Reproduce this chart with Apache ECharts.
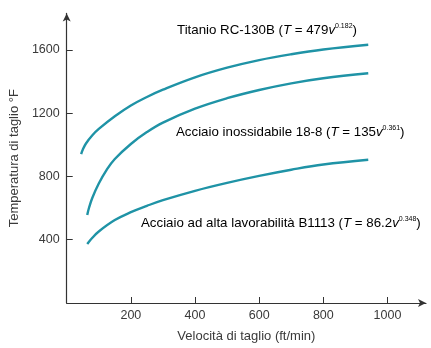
<!DOCTYPE html>
<html>
<head>
<meta charset="utf-8">
<script src="https://cdn.jsdelivr.net/npm/echarts@6/dist/echarts.min.js"></script>
<style>
html,body{margin:0;padding:0;background:#fff;}
#c{width:431px;height:348px;}
</style>
</head>
<body>
<div id="c"></div>
<script>
// Data
const titanioV = [45, 50, 60, 80, 100, 150, 200, 250, 300, 400, 500, 600, 700, 800, 940];
const titanioT = [941, 968, 1008, 1060, 1100, 1180, 1248, 1302, 1348, 1426, 1487, 1535, 1572, 1602, 1632];

const inoxV = [64, 70, 80, 100, 125, 150, 200, 250, 300, 400, 500, 600, 700, 800, 940];
const inoxT = [556, 605, 665, 755, 843, 910, 1005, 1080, 1140, 1228, 1294, 1346, 1388, 1420, 1452];

const b1113V = [64, 80, 100, 150, 200, 250, 300, 400, 500, 600, 700, 800, 940];
const b1113T = [373, 412, 452, 524, 574, 614, 650, 709, 759, 803, 842, 875, 905];

const xTicks = [200, 400, 600, 800, 1000];
const yTicks = [400, 800, 1200, 1600];

const xName = 'Velocità di taglio (ft/min)';
const yName = 'Temperatura di taglio °F';

function pairs(xs, ys) { return xs.map((x, i) => [x, ys[i]]); }

const lineColor = '#1f93a6';
const txt = '#3a3a3a';
const font = 'Liberation Sans, Arial, Helvetica, sans-serif';

const chart = echarts.init(document.getElementById('c'), null, {renderer: 'canvas'});

function lineSeries(name, xs, ys) {
  return {
    name: name, type: 'line', smooth: 0.4, showSymbol: false, symbol: 'none',
    data: pairs(xs, ys),
    lineStyle: {color: lineColor, width: 2.4},
    silent: true, animation: false
  };
}

const rich = {
  a: {fontSize: 13.3, fontFamily: font, color: txt, lineHeight: 15},
  i: {fontSize: 13.3, fontFamily: font, color: txt, fontStyle: 'italic', lineHeight: 15},
  s: {fontSize: 7, fontFamily: font, color: txt, verticalAlign: 'top', lineHeight: 15, padding: [0, 0, 5, 0]}
};

function label(left, topCenter, parts) {
  return {
    type: 'text', left: left, top: topCenter - 7.5,
    style: {text: parts, rich: rich, font: '13.3px ' + font}
  };
}

function plain(v) { return String(v); }

chart.setOption({
  animation: false,
  grid: {left: 62, right: 5, top: 13.4, bottom: 39.5, containLabel: false},
  xAxis: {
    type: 'value', min: 0, max: 1120, interval: 200,
    name: xName, nameLocation: 'middle', nameGap: 27,
    nameTextStyle: {fontSize: 13, fontFamily: font, color: txt},
    axisLine: {show: true, lineStyle: {color: '#333', width: 1.2}, symbol: ['none', 'arrow'], symbolSize: [6, 8]},
    axisTick: {show: true, inside: true, length: 6, lineStyle: {color: '#333'}, customValues: xTicks},
    axisLabel: {fontSize: 12.5, fontFamily: font, color: txt, margin: 6, customValues: xTicks, formatter: plain},
    splitLine: {show: false}
  },
  yAxis: {
    type: 'value', min: 0, max: 1830, interval: 400,
    name: yName, nameLocation: 'middle', nameGap: 42,
    nameTextStyle: {fontSize: 13, fontFamily: font, color: txt},
    axisLine: {show: true, lineStyle: {color: '#333', width: 1.2}, symbol: ['none', 'arrow'], symbolSize: [6, 8]},
    axisTick: {show: true, inside: true, length: 6, lineStyle: {color: '#333'}, customValues: yTicks},
    axisLabel: {fontSize: 12.5, fontFamily: font, color: txt, margin: 7, customValues: yTicks, formatter: plain},
    splitLine: {show: false}
  },
  series: [
    lineSeries('Titanio RC-130B', titanioV, titanioT),
    lineSeries('Acciaio inossidabile 18-8', inoxV, inoxT),
    lineSeries('Acciaio ad alta lavorabilità B1113', b1113V, b1113T)
  ],
  graphic: [
    label(177, 30.5, '{a|Titanio RC-130B (}{i|T}{a| = 479}{i|v}{s|0.182}{a|)}'),
    label(176, 132.5, '{a|Acciaio inossidabile 18-8 (}{i|T}{a| = 135}{i|v}{s|0.361}{a|)}'),
    label(141, 223, '{a|Acciaio ad alta lavorabilità B1113 (}{i|T}{a| = 86.2}{i|v}{s|0.348}{a|)}')
  ]
});
</script>
</body>
</html>
